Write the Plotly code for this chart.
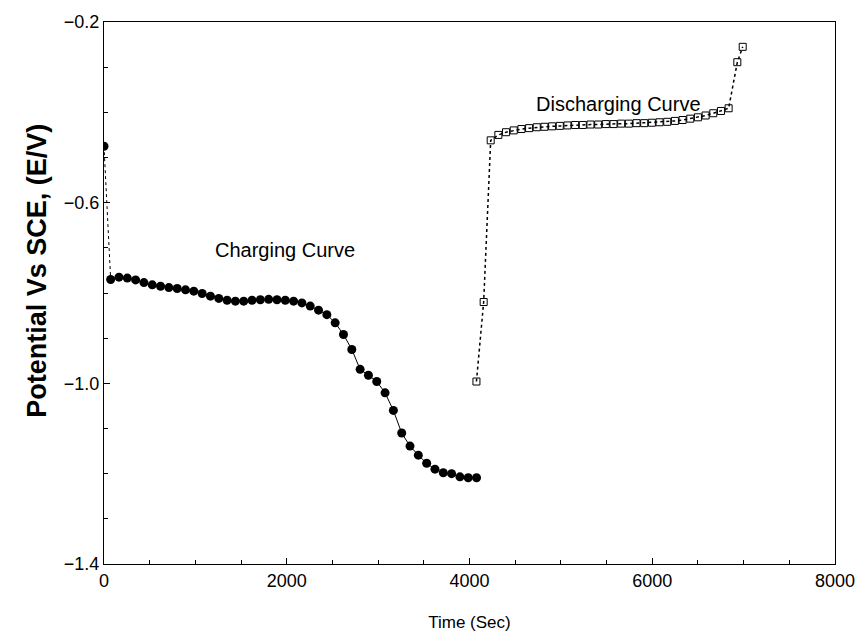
import plotly.graph_objects as go

# Charging curve (filled circles)
charge_t0 = [0, 73]
charge_v0 = [-0.475, -0.770]

charge_t = [73 + 91 * i for i in range(45)]
charge_v = [-0.770, -0.765, -0.767, -0.771, -0.777, -0.782, -0.785, -0.788, -0.790, -0.793,
            -0.796, -0.801, -0.807, -0.812, -0.816, -0.818, -0.818, -0.816, -0.815, -0.814,
            -0.815, -0.816, -0.818, -0.822, -0.829, -0.838, -0.848, -0.866, -0.892, -0.925,
            -0.969, -0.982, -0.996, -1.021, -1.060, -1.110, -1.139, -1.159, -1.177, -1.190,
            -1.198, -1.200, -1.207, -1.209, -1.209]

# Discharging curve (open squares)
dis_t = [4076, 4155] + [4232 + 84 * k for k in range(32)] + [6931, 6990]
dis_v = [-0.996, -0.820,
         -0.462, -0.450, -0.444, -0.440, -0.437, -0.435, -0.433, -0.432, -0.431, -0.430,
         -0.429, -0.428, -0.428, -0.427, -0.427, -0.426, -0.426, -0.425, -0.425, -0.424,
         -0.424, -0.423, -0.422, -0.421, -0.419, -0.417, -0.414, -0.411, -0.407, -0.402,
         -0.397, -0.391,
         -0.289, -0.255]

x_ticks = [0, 2000, 4000, 6000, 8000]
y_ticks = [-1.4, -1.0, -0.6, -0.2]
y_tick_text = ["\u22121.4", "\u22121.0", "\u22120.6", "\u22120.2"]

FONT = "Liberation Sans, Arial, sans-serif"

fig = go.Figure()

fig.add_trace(go.Scatter(
    x=charge_t0, y=charge_v0, mode="lines",
    line=dict(color="black", width=1, dash="dot"),
    showlegend=False, hoverinfo="skip"))

fig.add_trace(go.Scatter(
    x=[charge_t0[0]], y=[charge_v0[0]], mode="markers",
    marker=dict(symbol="circle", size=9, color="black"),
    showlegend=False))

fig.add_trace(go.Scatter(
    x=charge_t, y=charge_v, mode="lines+markers",
    line=dict(color="black", width=1),
    marker=dict(symbol="circle", size=9, color="black"),
    name="Charging Curve", showlegend=False))

fig.add_trace(go.Scatter(
    x=dis_t, y=dis_v, mode="lines+markers",
    line=dict(color="black", width=1.5, dash="dot"),
    marker=dict(symbol="square-open", size=7, color="black", line=dict(width=1)),
    name="Discharging Curve", showlegend=False))

fig.add_annotation(x=1978, y=-0.705, text="Charging Curve", showarrow=False,
                   font=dict(family=FONT, size=20, color="black"))
fig.add_annotation(x=5630, y=-0.382, text="Discharging Curve", showarrow=False,
                   font=dict(family=FONT, size=20, color="black"))

# y-axis title
fig.add_annotation(xref="paper", yref="paper", x=-0.091, y=0.542, textangle=-90,
                   text="<b>Potential Vs SCE, (E/V)</b>", showarrow=False,
                   xanchor="center", yanchor="middle",
                   font=dict(family=FONT, size=27, color="black"))

fig.update_layout(
    width=867, height=640,
    margin=dict(l=104, r=27, t=18, b=76),
    paper_bgcolor="white", plot_bgcolor="white",
    font=dict(family=FONT, size=18, color="black"),
)

fig.update_xaxes(
    range=[0, 8000], tickvals=x_ticks, ticks="inside", ticklen=6, tickwidth=1,
    tickcolor="black", showline=True, linecolor="black", linewidth=1, mirror=True,
    showgrid=False, zeroline=False,
    minor=dict(dtick=500, ticks="inside", ticklen=4, tickcolor="black", showgrid=False),
    title=dict(text="Time (Sec)", font=dict(family=FONT, size=17), standoff=26),
    tickfont=dict(family=FONT, size=18),
)

fig.update_yaxes(
    range=[-1.4, -0.2], tickvals=y_ticks, ticktext=y_tick_text, ticks="inside", ticklen=6,
    tickwidth=1, tickcolor="black", showline=True, linecolor="black", linewidth=1,
    mirror=True, showgrid=False, zeroline=False,
    minor=dict(dtick=0.1, tick0=-1.4, ticks="inside", ticklen=4, tickcolor="black", showgrid=False),
    tickfont=dict(family=FONT, size=18),
)

fig.write_html("out.html")
